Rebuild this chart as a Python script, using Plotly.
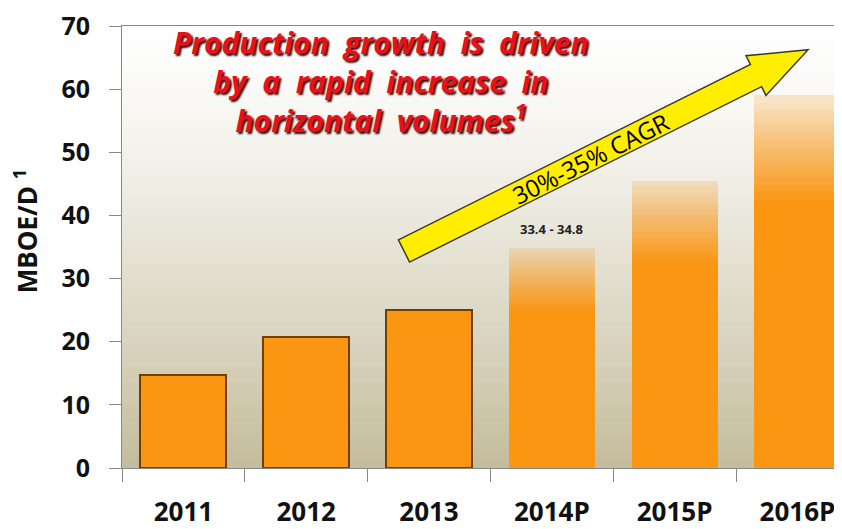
import plotly.graph_objects as go

# data
years = ["2011", "2012", "2013", "2014P", "2015P", "2016P"]
production = [14.8, 20.7, 25.0, 34.8, 45.5, 59.0]
projected = [False, False, False, True, True, True]
value_labels = ["14.8", "20.7", "25.0", "33.4 - 34.8", "", ""]
cagr_label = "30%-35% CAGR"

# the page body adds an 8px margin, so the figure is a bit smaller than the window
OFF = 8
W, H = 842 - OFF, 529 - OFF
L, R, T, B = 114, 0, 14, 61

ORANGE = (251, 150, 19)
FADE = 0.28     # share of a projected bar that fades out
N_FADE = 14

fig = go.Figure()

# solid part of every bar
solid = [v * (1 - FADE) if p else v for v, p in zip(production, projected)]
fig.add_trace(go.Bar(
    x=years, y=solid, width=0.7,
    marker=dict(color="rgb(%d,%d,%d)" % ORANGE,
                line=dict(color=["rgb(110,64,4)" if not p else "rgba(0,0,0,0)" for p in projected],
                          width=[2 if not p else 0 for p in projected])),
    hoverinfo="skip", showlegend=False))

# fading tops of projected bars
for i in range(N_FADE):
    a = 1 - (i + 1) / N_FADE * 0.8
    fig.add_trace(go.Bar(
        x=years, y=[v * FADE / N_FADE if p else 0 for v, p in zip(production, projected)],
        width=0.7, marker=dict(color="rgba(%d,%d,%d,%.3f)" % (ORANGE + (a,)), line=dict(width=0)),
        hoverinfo="skip", showlegend=False))

# value labels
for yr, v, lab in zip(years, production, value_labels):
    if lab:
        fig.add_annotation(x=yr, y=v, text="<b>%s</b>" % lab, showarrow=False, yshift=19,
                           font=dict(family="Open Sans", size=13, color="#222"))


def px(x, y):
    # window pixel -> paper coords
    x, y = x - OFF, y - OFF
    return (x - L) / (W - L - R), (H - B - y) / (H - T - B)


# background gradient of the plot area
shapes = []
nb = 60
for i in range(nb):
    t = (i + 0.5) / nb
    k = t ** 1.3
    c = tuple(int(255 + (e - 255) * k) for e in (196, 188, 155))
    shapes.append(dict(type="rect", xref="paper", yref="paper", x0=0, x1=1,
                       y0=1 - (i + 1) / nb, y1=1 - i / nb + 0.001, layer="below",
                       line=dict(width=0), fillcolor="rgb(%d,%d,%d)" % c))

# growth arrow
pts = [(398.4, 237.8), (750.4, 60.8), (746, 52), (808, 46), (766, 92), (761.6, 83.2), (409.6, 260.2)]
path = "M " + " L ".join("%.4f,%.4f" % px(*p) for p in pts) + " Z"
shapes.append(dict(type="path", xref="paper", yref="paper", path=path,
                   fillcolor="#ffee00", line=dict(color="#3a3a2a", width=1.5), layer="above"))

fig.update_layout(shapes=shapes)

cx, cy = px(590, 156)
fig.add_annotation(xref="paper", yref="paper", x=cx, y=cy, xanchor="center", yanchor="middle",
                   text=cagr_label, showarrow=False, textangle=-26.7,
                   font=dict(family="Open Sans", size=24, color="#000"))

tx, ty = px(381, 78)
fig.add_annotation(xref="paper", yref="paper", x=tx, y=ty, xanchor="center", yanchor="middle",
                   text="Production&nbsp; growth&nbsp; is&nbsp; driven<br>by&nbsp; a&nbsp; rapid&nbsp; increase&nbsp; in"
                        "<br>horizontal&nbsp; volumes<sup>1</sup>",
                   showarrow=False, align="center",
                   font=dict(family="Open Sans", size=30, color="#e8101a", weight="bold", style="italic",
                             shadow="2px 2px 2px #3a0000"))

# y axis title, placed as an annotation so it sits where the reference has it
yx, yy = px(26, 229)
fig.add_annotation(xref="paper", yref="paper", x=yx, y=yy, xanchor="center", yanchor="middle",
                   text="<b>MBOE/D <sup>1</sup></b>", showarrow=False, textangle=-90,
                   font=dict(family="Open Sans", size=26, color="#111"))

fig.update_layout(
    width=W, height=H, barmode="stack", bargap=0.3,
    margin=dict(l=L, r=R, t=T, b=B, pad=0),
    paper_bgcolor="white", plot_bgcolor="rgba(0,0,0,0)",
    font=dict(family="Open Sans", color="#111"),
    xaxis=dict(range=[-0.5, 5.363], type="category", showgrid=False,
               showline=True, linecolor="#888", linewidth=1, mirror=True,
               ticks="outside", tickson="boundaries", ticklen=13, tickcolor="#888",
               tickfont=dict(size=26, weight="bold", color="#111"), ticklabelstandoff=21),
    yaxis=dict(range=[0, 70], dtick=10, showgrid=False, zeroline=False,
               showline=True, linecolor="#888", linewidth=1,
               ticks="outside", ticklen=12, tickcolor="#888", ticklabeloverflow="allow",
               tickfont=dict(size=25, weight="bold", color="#111"), ticklabelstandoff=14),
)

fig.write_html("out.html")
